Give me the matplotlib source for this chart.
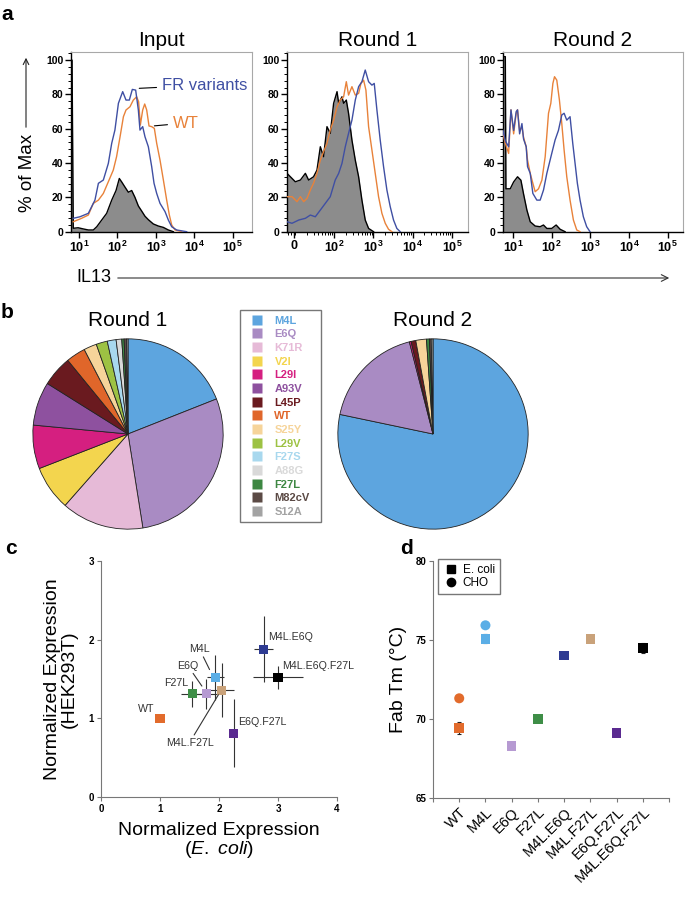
import numpy as np
import matplotlib
matplotlib.use('Agg')
import matplotlib.pyplot as plt
from matplotlib.patches import FancyArrowPatch
from matplotlib.lines import Line2D
from matplotlib.ticker import AutoMinorLocator, LogLocator, NullFormatter, FixedLocator

plt.rcParams['font.family'] = ['Liberation Sans', 'DejaVu Sans']
plt.rcParams['mathtext.fontset'] = 'custom'
plt.rcParams['mathtext.rm'] = 'Liberation Sans'
plt.rcParams['mathtext.it'] = 'Liberation Sans:italic'
plt.rcParams['mathtext.bf'] = 'Liberation Sans:bold'

# ---------------- panel a: IL13 histograms (% of max) ----------------
input_black_x = [6.2, 6.6, 7.1, 9.5, 13, 17.5, 23.6, 29, 39, 52.5, 71, 92, 112, 129, 157, 192,
                 235, 286, 350, 428, 521, 637, 859, 1160, 1567, 2110, 2850]
input_black_y = [100, 100, 2, 2.3, 1.6, 1, 1, 2.9, 6.8, 10.7, 18.4, 24, 31, 29, 26, 23,
                 24, 20, 15, 12, 9, 7, 4.5, 3.3, 2.5, 1, 0]
input_wt_x = [7.1, 11.7, 17.5, 23.6, 32, 43, 58, 78, 95, 117, 143, 167, 212, 259, 316, 356,
              394, 454, 512, 577, 663, 778, 912, 1050, 1282, 1567, 1910, 2240, 2580, 3150, 4700]
input_wt_y = [5.8, 7.8, 9.7, 16.5, 18.4, 22.3, 29.1, 35.9, 43.7, 55.3, 67, 70.9, 72.8, 76.7, 78.6, 75.7,
              62.1, 70.9, 74.4, 70.9, 61.6, 61.2, 60.2, 51.5, 41.7, 30.1, 18.4, 9.7, 3.9, 1.0, 0]
input_fr_x = [7.1, 10.6, 17.5, 26, 32, 43, 58, 71, 86, 106, 137, 167, 204, 244, 298, 350,
              386, 454, 521, 637, 778, 895, 1050, 1282, 1730, 2110, 2580, 3475, 6325]
input_fr_y = [7.8, 8.7, 10.7, 18.4, 28.2, 30.1, 39.8, 51.5, 59.2, 74.8, 81.6, 76.7, 76.7, 82.9, 82.5, 70.9,
              59.2, 61.2, 55.3, 49.5, 37.9, 28.2, 22.3, 16.5, 11.7, 6.8, 2.9, 1.0, 0]

r1_black_x = [-15, -12.3, 10.3, 13.9, 18.6, 22.5, 30, 36.7, 44.7, 54, 66, 80, 97.5, 119, 131, 159,
              175, 205, 234, 285, 347, 422, 512, 622, 757, 1014]
r1_black_y = [34, 32, 29.1, 30.1, 34, 30.1, 32, 35.9, 49.5, 43.7, 61.2, 57.3, 74.8, 81.6, 74.8, 78.6,
              74.8, 76.7, 68.9, 53.4, 41.7, 32, 18.4, 6.8, 1.9, 0]
r1_wt_x = [-15, -11.2, 11.4, 13.9, 16.8, 20.5, 24.9, 30, 36.7, 44.7, 54, 66, 80, 97.5, 119, 144, 175,
           205, 234, 285, 347, 422, 483, 565, 647, 757, 920, 1117, 1358, 1652, 2009, 2439, 2965]
r1_wt_y = [20.4, 20.4, 17.5, 20.4, 17.5, 19.4, 24.3, 28.2, 34, 41.7, 46.6, 51.5, 59.2, 65, 72.8, 76.7, 78.6,
           87.4, 79.6, 84.5, 79.6, 80.6, 86.4, 88.3, 82.5, 61.2, 47.6, 34, 20.4, 10.7, 4.9, 1.4, 0]
r1_fr_x = [-15, -11.2, 12.6, 18.6, 24.9, 33.3, 44.7, 59.8, 80, 107, 131, 159, 193, 234, 285, 347,
           422, 512, 622, 757, 920, 1054, 1233, 1496, 1820, 2213, 2690, 3266, 3970, 4830]
r1_fr_y = [5.8, 4.9, 6.8, 7.8, 9.7, 8.7, 12.6, 16.5, 20.4, 30.1, 34, 39.8, 49.5, 57.3, 65, 76.7,
           84.5, 87.4, 94.2, 87.4, 85.4, 86.4, 70.9, 53.4, 37.9, 24.3, 14.6, 6.8, 1.9, 0]

r2_black_x = [5.46, 6.27, 6.5, 8.4, 10.3, 13, 15.9, 18.6, 22.7, 27.7, 37.2, 50, 61, 74.6, 100, 130, 165, 222]
r2_black_y = [102, 102, 25, 25, 29, 32, 30, 22, 12.6, 5.8, 3.3, 2.9, 3.9, 1.9, 1.9, 3.9, 1.4, 0]
r2_wt_x = [5.46, 6.27, 7.64, 8.78, 10.3, 12.0, 13.0, 14.7, 16.9, 18.6, 21.8, 23.6, 27.7, 32.4, 37.2, 45.4,
           55.5, 67.6, 82.4, 94.6, 107, 118, 135, 158, 182, 209, 245, 298, 364, 444, 541]
r2_wt_y = [57, 51.5, 45.6, 71, 57, 69, 71, 59, 61, 55, 49.5, 41.7, 34, 28.2, 23.3, 25,
           30, 43.7, 69, 74.8, 86.4, 90.3, 88.3, 76.7, 63, 47.6, 32, 18.4, 6.8, 1, 0]
r2_fr_x = [5.46, 6.27, 7.64, 8.78, 10.3, 12.0, 13.0, 14.7, 16.9, 18.6, 21.8, 23.6, 27.7, 32.4, 41.1, 50.1,
           61.2, 74.6, 100, 122, 149, 182, 209, 245, 298, 350, 402, 461, 541, 659, 804, 980]
r2_fr_y = [59, 53, 49.5, 71, 59, 70, 71, 57, 63, 54, 49.5, 37.9, 34, 22.3, 18.4, 18.4,
           24.3, 34, 45.6, 53.4, 59, 68, 69, 65, 67, 51.5, 39.8, 28.2, 18.4, 8.7, 2.9, 0]

pct_ticks = [0, 20, 40, 60, 80, 100]

# ---------------- panel b: clone frequencies (%) ----------------
pie_labels = ['M4L', 'E6Q', 'K71R', 'V2I', 'L29I', 'A93V', 'L45P', 'WT', 'S25Y', 'L29V',
              'F27S', 'A88G', 'F27L', 'M82cV', 'S12A']
pie_colors = ['#5DA5DF', '#A98BC3', '#E6BAD7', '#F3D54E', '#D51F80', '#8E519F', '#6A1A1F', '#E0662A',
              '#F6D49A', '#9DC243', '#A8D8EE', '#D9D9D9', '#3D8742', '#5B4A45', '#A3A3A3']
round1_pct = [19.0, 28.5, 14.0, 7.6, 7.4, 7.4, 5.2, 3.3, 2.2, 1.9, 1.5, 0.95, 0.4, 0.4, 0.25]
round2_pct = [78.3, 17.7, 0, 0, 0.3, 0, 0.8, 0, 1.8, 0, 0, 0, 0.5, 0.3, 0.3]

# ---------------- panels c and d: variants ----------------
variants = ['WT', 'M4L', 'E6Q', 'F27L', 'M4L.E6Q', 'M4L.F27L', 'E6Q.F27L', 'M4L.E6Q.F27L']
variant_colors = ['#E26B2C', '#5BAEE6', '#B69AD2', '#3E8E47', '#2E3B92', '#C9A27A', '#5A2A90', '#000000']
c_ecoli = [1.0, 1.94, 1.78, 1.55, 2.76, 2.05, 2.25, 3.0]
c_ecoli_err = [0, 0.14, 0.18, 0.19, 0.16, 0.20, 0.05, 0.43]
c_hek = [1.0, 1.52, 1.31, 1.31, 1.88, 1.36, 0.81, 1.52]
c_hek_err = [0, 0.29, 0.19, 0.17, 0.42, 0.34, 0.43, 0.15]
d_ecoli = [69.43, 75.08, 68.3, 70.0, 74.03, 75.08, 69.11, 74.49]
d_ecoli_err = [0.4, 0.3, 0, 0, 0, 0, 0, 0.3]
d_cho = [71.31, 75.93, np.nan, np.nan, np.nan, np.nan, np.nan, np.nan]

BLUE = '#3F4FA3'
ORANGE = '#E8823A'

W, H = 685, 899
fig = plt.figure(figsize=(W / 100, H / 100), dpi=100)


def box(l, t, r, b):
    return [l / W, 1 - b / H, (r - l) / W, (b - t) / H]


def style_hist(ax):
    ax.set_ylim(0, 104.7)
    ax.set_yticks(pct_ticks)
    ax.set_yticklabels([str(t) for t in pct_ticks], fontweight='bold', fontsize=7.5)
    ax.yaxis.set_minor_locator(AutoMinorLocator(5))
    for s in ['top', 'right']:
        ax.spines[s].set_color('#a8a8a8')
        ax.spines[s].set_linewidth(0.8)
    for s in ['left', 'bottom']:
        ax.spines[s].set_color('black')
        ax.spines[s].set_linewidth(1.0)
    ax.tick_params(which='major', direction='out', length=4, width=1, pad=1.5)
    ax.tick_params(which='minor', direction='out', length=2, width=0.7)


def draw_hist(ax, bx, by, wx, wy, fx, fy):
    ax.fill_between(bx, by, 0, color='#8c8c8c', lw=0, zorder=1)
    ax.plot(bx, by, color='black', lw=1, zorder=2)
    ax.plot(wx, wy, color=ORANGE, lw=1, zorder=3)
    ax.plot(fx, fy, color=BLUE, lw=1, zorder=3)


decades = [1e1, 1e2, 1e3, 1e4, 1e5]
dec_labels = [r'$\mathbf{10^{%d}}$' % k for k in range(1, 6)]

ax_in = fig.add_axes(box(71, 52, 252, 231.7))
draw_hist(ax_in, input_black_x, input_black_y, input_wt_x, input_wt_y, input_fr_x, input_fr_y)
ax_in.set_xscale('log')
ax_in.set_xlim(6.2, 10 ** 5.5)
ax_in.set_xticks(decades)
ax_in.set_xticklabels(dec_labels, fontsize=9)
ax_in.xaxis.set_minor_locator(LogLocator(base=10, subs=np.arange(2, 10)))
ax_in.xaxis.set_minor_formatter(NullFormatter())
style_hist(ax_in)
ax_in.set_title('Input', fontsize=15, pad=4)
ax_in.annotate('FR variants', xy=(340, 83.5), xytext=(1450, 85.4), color=BLUE, fontsize=12,
               va='center', ha='left',
               arrowprops=dict(arrowstyle='-', color='black', lw=0.8, shrinkA=2, shrinkB=1))
ax_in.annotate('WT', xy=(841, 61.6), xytext=(2790, 63.3), color=ORANGE, fontsize=12,
               va='center', ha='left',
               arrowprops=dict(arrowstyle='-', color='black', lw=0.8, shrinkA=2, shrinkB=1))

ax_r1 = fig.add_axes(box(287, 52, 468, 231.7))
draw_hist(ax_r1, r1_black_x, r1_black_y, r1_wt_x, r1_wt_y, r1_fr_x, r1_fr_y)
ax_r1.set_xscale('symlog', linthresh=10, linscale=0.01)
ax_r1.set_xlim(-15, 10 ** 5.41)
ax_r1.set_xticks([0] + decades[1:])
ax_r1.set_xticklabels([r'$\mathbf{0}$'] + dec_labels[1:], fontsize=9)
r1_minor = [-14, -12, -10] + [k * 10 ** n for n in range(1, 5) for k in range(1, 10) if k > 1 or n == 1]
ax_r1.xaxis.set_minor_locator(FixedLocator(r1_minor))
ax_r1.xaxis.set_minor_formatter(NullFormatter())
style_hist(ax_r1)
ax_r1.set_title('Round 1', fontsize=15, pad=4)

ax_r2 = fig.add_axes(box(503, 52, 683, 231.7))
draw_hist(ax_r2, r2_black_x, r2_black_y, r2_wt_x, r2_wt_y, r2_fr_x, r2_fr_y)
ax_r2.set_xscale('log')
ax_r2.set_xlim(5.46, 10 ** 5.4)
ax_r2.set_xticks(decades)
ax_r2.set_xticklabels(dec_labels, fontsize=9)
ax_r2.xaxis.set_minor_locator(LogLocator(base=10, subs=np.arange(2, 10)))
ax_r2.xaxis.set_minor_formatter(NullFormatter())
style_hist(ax_r2)
ax_r2.set_title('Round 2', fontsize=15, pad=4)

fig.text(27 / W, 1 - 173 / H, '% of Max', rotation=90, ha='center', va='center', fontsize=13.5)
fig.add_artist(FancyArrowPatch((26 / W, 1 - 130 / H), (26 / W, 1 - 55 / H), transform=fig.transFigure,
                               arrowstyle='->', mutation_scale=10, lw=0.8, color='#222'))
fig.text(76 / W, 1 - 277 / H, 'IL13', ha='left', va='center', fontsize=13)
fig.add_artist(FancyArrowPatch((115 / W, 1 - 278 / H), (672 / W, 1 - 278 / H), transform=fig.transFigure,
                               arrowstyle='->', mutation_scale=12, lw=0.8, color='#333'))

# ---------------- panel b ----------------
for pct, cx, title in [(round1_pct, 128, 'Round 1'), (round2_pct, 433, 'Round 2')]:
    axp = fig.add_axes(box(cx - 98, 434 - 98, cx + 98, 434 + 98))
    vals = [v for v in pct if v > 0]
    cols = [c for v, c in zip(pct, pie_colors) if v > 0]
    axp.pie(vals, colors=cols, startangle=90, counterclock=False, radius=1,
            wedgeprops=dict(edgecolor='#222222', linewidth=0.6))
    axp.set_xlim(-1.03, 1.03)
    axp.set_ylim(-1.03, 1.03)
    axp.set_aspect('equal')
    axp.set_title(title, fontsize=15, pad=7)

pie_handles = [Line2D([], [], marker='s', ls='none', markersize=6.5, markerfacecolor=c,
                      markeredgecolor='none') for c in pie_colors]
fig.legend(pie_handles, pie_labels, loc='upper left', bbox_to_anchor=(240 / W, 1 - 528 / H, 81 / W, 218 / H),
           mode='expand', frameon=True, fancybox=False, edgecolor='#555555',
           prop={'weight': 'bold', 'size': 8}, labelcolor=pie_colors,
           handlelength=2.0, handletextpad=0.6, labelspacing=0.33, borderpad=0.5, borderaxespad=0)

# ---------------- panel c ----------------
axc = fig.add_axes(box(101, 561, 337, 797))
axc.errorbar(c_ecoli, c_hek, xerr=c_ecoli_err, yerr=c_hek_err, fmt='none', ecolor='#333333',
             elinewidth=0.8, capsize=0, zorder=2)
axc.scatter(c_ecoli, c_hek, marker='s', s=42, c=variant_colors, edgecolors='none', zorder=3)
axc.set_xlim(0, 4)
axc.set_ylim(0, 3)
axc.set_xticks([0, 1, 2, 3, 4])
axc.set_yticks([0, 1, 2, 3])
for s in ['top', 'right']:
    axc.spines[s].set_visible(False)
for s in ['left', 'bottom']:
    axc.spines[s].set_color('#777777')
    axc.spines[s].set_linewidth(0.8)
axc.tick_params(direction='out', length=3, width=0.8, color='#777777', labelsize=7, pad=2)
for lab in axc.get_xticklabels() + axc.get_yticklabels():
    lab.set_fontweight('bold')
axc.set_xlabel('Normalized Expression\n($\\it{E.\\ coli}$)', fontsize=14, linespacing=1.0, labelpad=6)
axc.set_ylabel('Normalized Expression\n(HEK293T)', fontsize=14, linespacing=0.95, labelpad=8)

lab_kw = dict(fontsize=7.7, color='#333333')
line_kw = dict(arrowstyle='-', color='#333333', lw=0.8, shrinkA=0, shrinkB=0)
axc.text(0.76, 1.12, 'WT', ha='center', va='center', **lab_kw)
axc.text(1.27, 1.45, 'F27L', ha='center', va='center', **lab_kw)
axc.annotate('E6Q', xy=(1.71, 1.41), xytext=(1.47, 1.67), ha='center', va='center',
             arrowprops=line_kw, **lab_kw)
axc.annotate('M4L', xy=(1.84, 1.62), xytext=(1.67, 1.88), ha='center', va='center',
             arrowprops=line_kw, **lab_kw)
axc.annotate('M4L.F27L', xy=(1.99, 1.30), xytext=(1.50, 0.69), ha='center', va='center',
             arrowprops=line_kw, **lab_kw)
axc.text(2.84, 2.03, 'M4L.E6Q', ha='left', va='center', **lab_kw)
axc.text(3.07, 1.67, 'M4L.E6Q.F27L', ha='left', va='center', **lab_kw)
axc.text(2.32, 0.95, 'E6Q.F27L', ha='left', va='center', **lab_kw)

# ---------------- panel d ----------------
axd = fig.add_axes(box(433, 561, 669, 798))
xpos = np.arange(len(variants))
axd.errorbar(xpos, d_ecoli, yerr=d_ecoli_err, fmt='none', ecolor='#222222', elinewidth=0.8,
             capsize=1.5, capthick=0.8, zorder=2)
axd.scatter(xpos, d_ecoli, marker='s', s=48, c=variant_colors, edgecolors='none', zorder=3)
axd.scatter(xpos, d_cho, marker='o', s=52, c=variant_colors, edgecolors='none', zorder=3)
axd.set_xlim(-1, 8)
axd.set_ylim(65, 80)
axd.set_yticks([65, 70, 75, 80])
axd.set_xticks(np.arange(-1, 9))
axd.set_xticklabels([''] + variants + [''], rotation=45, ha='right', rotation_mode='anchor', fontsize=10.5)
for s in ['top', 'right']:
    axd.spines[s].set_visible(False)
for s in ['left', 'bottom']:
    axd.spines[s].set_color('#777777')
    axd.spines[s].set_linewidth(0.8)
axd.tick_params(direction='out', length=3, width=0.8, color='#777777', pad=2)
axd.tick_params(axis='y', labelsize=7)
for lab in axd.get_yticklabels():
    lab.set_fontweight('bold')
axd.set_ylabel('Fab Tm (°C)', fontsize=14, labelpad=6)
leg_handles = [Line2D([], [], marker='s', ls='none', color='black', markersize=5.5),
               Line2D([], [], marker='o', ls='none', color='black', markersize=6)]
axd.legend(leg_handles, ['E. coli', 'CHO'], loc='upper left', bbox_to_anchor=(438 / W, 1 - 559 / H),
           bbox_transform=fig.transFigure, frameon=True, fancybox=False, edgecolor='#555555',
           fontsize=8.5, handlelength=1.4, handletextpad=0.3, labelspacing=0.15, borderpad=0.4,
           borderaxespad=0)

# panel letters
for letter, x, y in [('a', 1, 15), ('b', 1, 312), ('c', 5, 549), ('d', 400, 549)]:
    fig.text(x / W, 1 - y / H, letter, fontsize=15, fontweight='bold', ha='left', va='center')

fig.savefig('out.png', dpi=100)
